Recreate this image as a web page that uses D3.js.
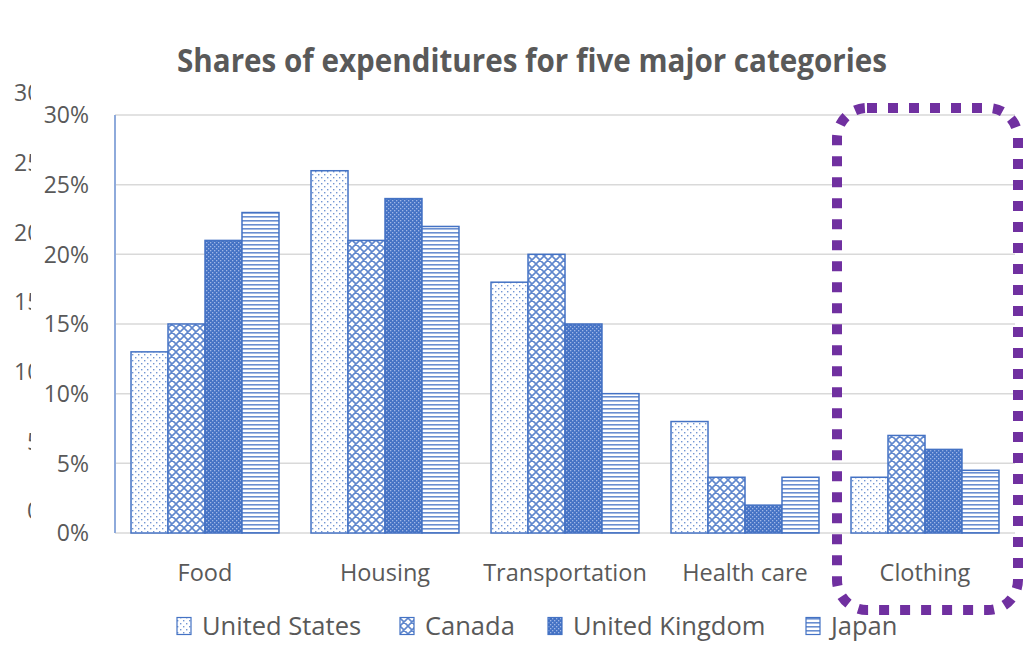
<!DOCTYPE html>
<html><head><meta charset="utf-8">
<script src="https://cdn.jsdelivr.net/npm/d3@7"></script>
<style>html,body{margin:0;padding:0;background:#fff}svg{display:block}</style>
</head><body>
<script>
const categories = ["Food","Housing","Transportation","Health care","Clothing"];
const seriesNames = ["United States","Canada","United Kingdom","Japan"];
const usValues = [13,26,18,8,4];
const caValues = [15,21,20,4,7];
const ukValues = [21,24,15,2,6];
const jpValues = [23,22,10,4,4.5];
const tickValues = [0,5,10,15,20,25,30];
const tickLabels = ["0%","5%","10%","15%","20%","25%","30%"];
const title = "Shares of expenditures for five major categories";

(function(){
const W=1024,H=666;
const svg=d3.select("body").append("svg").attr("width",W).attr("height",H);
const defs=svg.append("defs");
const blue="#4472C4";
// patterns
const pUS=defs.append("pattern").attr("id","pUS").attr("patternUnits","userSpaceOnUse").attr("width",6).attr("height",6);
pUS.append("rect").attr("width",6).attr("height",6).attr("fill","#fff");
pUS.append("rect").attr("x",0).attr("y",0).attr("width",1.4).attr("height",1.4).attr("fill",blue).attr("opacity",0.75);
pUS.append("rect").attr("x",3).attr("y",3).attr("width",1.4).attr("height",1.4).attr("fill",blue).attr("opacity",0.75);
const pCA=defs.append("pattern").attr("id","pCA").attr("patternUnits","userSpaceOnUse").attr("width",8).attr("height",8);
pCA.append("rect").attr("width",8).attr("height",8).attr("fill","#fff");
pCA.append("path").attr("d","M0,0L8,8M8,0L0,8M-1,7L1,9M7,-1L9,1M-1,1L1,-1M7,9L9,7").attr("stroke",blue).attr("stroke-width",1.6).attr("opacity",0.85);
const pUK=defs.append("pattern").attr("id","pUK").attr("patternUnits","userSpaceOnUse").attr("width",4).attr("height",4);
pUK.append("rect").attr("width",4).attr("height",4).attr("fill",blue);
pUK.append("rect").attr("x",0).attr("y",0).attr("width",1.3).attr("height",1.3).attr("fill","#9fb6e6");
pUK.append("rect").attr("x",2).attr("y",2).attr("width",1.3).attr("height",1.3).attr("fill","#9fb6e6");
const pJP=defs.append("pattern").attr("id","pJP").attr("patternUnits","userSpaceOnUse").attr("width",4).attr("height",4);
pJP.append("rect").attr("width",4).attr("height",4).attr("fill","#fff");
pJP.append("rect").attr("x",0).attr("y",0).attr("width",4).attr("height",1.6).attr("fill",blue).attr("opacity",0.8);
const fills=["url(#pUS)","url(#pCA)","url(#pUK)","url(#pJP)"];
const seriesValues=[usValues,caValues,ukValues,jpValues];

const mLeft=115,mRight=1015,mTop=115,mBottom=533;
const x=d3.scaleBand().domain(categories).range([mLeft,mRight]).paddingInner(0.178).paddingOuter(0.089);
const x1=d3.scaleBand().domain(seriesNames).range([0,x.bandwidth()]);
const y=d3.scaleLinear().domain([0,30]).range([mBottom,mTop]);
const font="'Open Sans', sans-serif";

// gridlines
svg.append("g").selectAll("line").data(tickValues).join("line")
 .attr("x1",mLeft).attr("x2",mRight).attr("y1",d=>y(d)).attr("y2",d=>y(d))
 .attr("stroke","#d9d9d9").attr("stroke-width",1.5);

// y axis line
svg.append("line").attr("x1",mLeft).attr("x2",mLeft).attr("y1",mTop).attr("y2",mBottom).attr("stroke","#8eaadb").attr("stroke-width",2);

// tick labels
svg.append("g").selectAll("text").data(tickValues).join("text")
 .attr("x",89).attr("y",d=>y(d)).attr("dy","0.36em").attr("text-anchor","end")
 .attr("font-family",font).attr("font-size",23).attr("fill","#595959")
 .text((d,i)=>tickLabels[i]);

// ghost tick labels (cropped duplicate axis at far left)
defs.append("clipPath").attr("id","ghostClip").append("rect").attr("x",0).attr("y",0).attr("width",31).attr("height",H);
svg.append("g").attr("clip-path","url(#ghostClip)").selectAll("text").data(tickValues).join("text")
 .attr("x",d=>d>=10?14:27).attr("y",d=>y(d)-22).attr("dy","0.36em").attr("text-anchor","start")
 .attr("font-family",font).attr("font-size",23).attr("fill","#595959")
 .text((d,i)=>tickLabels[i].replace("%",""));

// bars
const g=svg.append("g");
seriesNames.forEach((s,si)=>{
  g.append("g").selectAll("rect").data(categories).join("rect")
   .attr("x",c=>x(c)+x1(s)).attr("width",x1.bandwidth())
   .attr("y",(c,ci)=>y(seriesValues[si][ci])).attr("height",(c,ci)=>y(0)-y(seriesValues[si][ci]))
   .attr("fill",fills[si]).attr("stroke",blue).attr("stroke-width",1.5);
});

// category labels
svg.append("g").selectAll("text").data(categories).join("text")
 .attr("x",c=>x(c)+x.bandwidth()/2).attr("y",580.5).attr("text-anchor","middle")
 .attr("font-family",font).attr("font-size",23.5).attr("fill","#595959").text(c=>c);

// title
svg.append("text").attr("transform","translate(532,72) scale(1,1.1)").attr("text-anchor","middle")
 .attr("font-family",font).attr("font-weight","bold").attr("font-size",29.6).attr("fill","#595959").text(title);

// legend
const legX=[177,400,548,806];
const leg=svg.append("g").selectAll("g").data(seriesNames).join("g").attr("transform",(d,i)=>`translate(${legX[i]},626)`);
leg.append("rect").attr("x",0).attr("y",-8.5).attr("width",14).attr("height",17).attr("fill",(d,i)=>fills[i]).attr("stroke",blue).attr("stroke-width",1.2);
leg.append("text").attr("x",25).attr("y",9).attr("font-family",font).attr("font-size",25.5).attr("fill","#595959").text(d=>d);

// highlight box
svg.append("rect").attr("x",837).attr("y",108).attr("width",181).attr("height",502).attr("rx",30).attr("ry",30)
 .attr("fill","none").attr("stroke","#7030A0").attr("stroke-width",10).attr("stroke-dasharray","10 11");
})();
</script>
</body></html>
